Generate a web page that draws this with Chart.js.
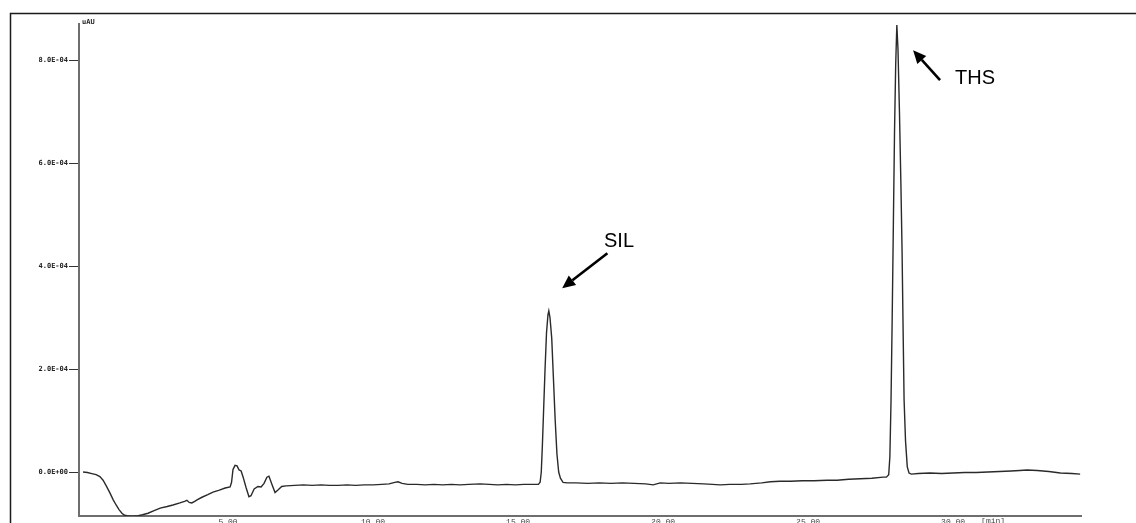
<!DOCTYPE html>
<html>
<head>
<meta charset="utf-8">
<script src="https://cdn.jsdelivr.net/npm/chart.js@4/dist/chart.umd.min.js"></script>
<style>
  html, body { margin: 0; padding: 0; background: #fff; }
  canvas { display: block; }
</style>
</head>
<body>
<canvas id="chrom" width="1136" height="523"></canvas>
<script>
// Retention time (min)
const retentionTime = [
  0.00, 0.15, 0.30, 0.45, 0.58, 0.69, 0.80, 0.93, 1.04, 1.14, 1.24, 1.34, 1.43, 1.52, 1.70, 1.90,
  2.05, 2.24, 2.45, 2.66, 2.90, 3.10, 3.34, 3.50, 3.58, 3.66, 3.75, 3.85, 3.93, 4.10, 4.30, 4.48,
  4.70, 4.90, 5.07, 5.12, 5.17, 5.24, 5.31, 5.38, 5.45, 5.52, 5.62, 5.72, 5.79, 5.90, 6.03, 6.14,
  6.24, 6.34, 6.41, 6.52, 6.62, 6.72, 6.85, 7.00, 7.30, 7.60, 7.90, 8.20, 8.50, 8.80, 9.10, 9.40,
  9.70, 10.00, 10.30, 10.55, 10.75, 10.86, 11.00, 11.20, 11.50, 11.80, 12.10, 12.40, 12.70, 13.00,
  13.30, 13.69, 14.00, 14.30, 14.60, 14.90, 15.20, 15.50, 15.70, 15.76, 15.80, 15.84, 15.88, 15.93,
  15.98, 16.03, 16.06, 16.10, 16.16, 16.22, 16.28, 16.34, 16.40, 16.46, 16.55, 16.70, 17.00, 17.40,
  17.80, 18.20, 18.60, 19.00, 19.40, 19.66, 19.90, 20.20, 20.60, 21.00, 21.40, 21.70, 21.97, 22.30,
  22.70, 23.00, 23.40, 23.70, 24.03, 24.40, 24.80, 25.20, 25.66, 26.00, 26.40, 26.80, 27.20, 27.59,
  27.70, 27.78, 27.82, 27.86, 27.90, 27.94, 27.98, 28.02, 28.06, 28.10, 28.15, 28.20, 28.24, 28.28,
  28.31, 28.36, 28.42, 28.48, 28.56, 28.80, 29.20, 29.60, 30.00, 30.40, 30.80, 31.20, 31.60, 32.00,
  32.30, 32.55, 32.90, 33.30, 33.70, 34.10, 34.38
];

// Detector signal (AU)
const absorbance = [
  0.00e-4, -0.01e-4, -0.03e-4, -0.05e-4, -0.09e-4, -0.16e-4, -0.27e-4, -0.41e-4, -0.54e-4, -0.64e-4, -0.73e-4, -0.80e-4, -0.84e-4, -0.85e-4, -0.86e-4, -0.85e-4,
  -0.83e-4, -0.80e-4, -0.75e-4, -0.70e-4, -0.67e-4, -0.64e-4, -0.60e-4, -0.57e-4, -0.55e-4, -0.59e-4, -0.60e-4, -0.57e-4, -0.54e-4, -0.49e-4, -0.44e-4, -0.39e-4,
  -0.35e-4, -0.31e-4, -0.29e-4, -0.20e-4, 0.05e-4, 0.13e-4, 0.12e-4, 0.04e-4, 0.02e-4, -0.10e-4, -0.30e-4, -0.48e-4, -0.46e-4, -0.33e-4, -0.28e-4, -0.29e-4,
  -0.22e-4, -0.10e-4, -0.08e-4, -0.25e-4, -0.40e-4, -0.35e-4, -0.28e-4, -0.27e-4, -0.26e-4, -0.25e-4, -0.26e-4, -0.25e-4, -0.26e-4, -0.26e-4, -0.25e-4, -0.26e-4,
  -0.25e-4, -0.25e-4, -0.24e-4, -0.23e-4, -0.20e-4, -0.19e-4, -0.22e-4, -0.24e-4, -0.24e-4, -0.25e-4, -0.24e-4, -0.25e-4, -0.24e-4, -0.25e-4,
  -0.24e-4, -0.23e-4, -0.24e-4, -0.25e-4, -0.24e-4, -0.25e-4, -0.24e-4, -0.24e-4, -0.24e-4, -0.20e-4, 0.00e-4, 0.55e-4, 1.20e-4, 2.00e-4,
  2.70e-4, 3.05e-4, 3.13e-4, 3.00e-4, 2.60e-4, 1.80e-4, 1.00e-4, 0.35e-4, 0.00e-4, -0.12e-4, -0.20e-4, -0.21e-4, -0.21e-4, -0.22e-4,
  -0.21e-4, -0.22e-4, -0.21e-4, -0.22e-4, -0.23e-4, -0.25e-4, -0.21e-4, -0.22e-4, -0.21e-4, -0.22e-4, -0.23e-4, -0.24e-4, -0.25e-4, -0.24e-4,
  -0.24e-4, -0.23e-4, -0.21e-4, -0.19e-4, -0.18e-4, -0.18e-4, -0.17e-4, -0.17e-4, -0.16e-4, -0.16e-4, -0.14e-4, -0.13e-4, -0.12e-4, -0.10e-4,
  -0.10e-4, -0.05e-4, 0.30e-4, 1.40e-4, 3.00e-4, 4.80e-4, 6.60e-4, 7.90e-4, 8.68e-4, 8.20e-4, 7.00e-4, 5.60e-4, 4.30e-4, 2.60e-4,
  1.40e-4, 0.60e-4, 0.10e-4, -0.02e-4, -0.04e-4, -0.03e-4, -0.02e-4, -0.03e-4, -0.02e-4, -0.01e-4, -0.01e-4, 0.00e-4, 0.01e-4, 0.02e-4,
  0.03e-4, 0.04e-4, 0.03e-4, 0.01e-4, -0.02e-4, -0.03e-4, -0.04e-4
];

// Axis ticks
const xTickValues = [5, 10, 15, 20, 25, 30];
const yTickValues = [0, 2e-4, 4e-4, 6e-4, 8e-4];

// Peak labels: name, arrow tip (time, AU), arrow tail (time, AU)
const peakNames = ['SIL', 'THS'];
const arrowTips = [[16.52, 3.57e-4], [28.62, 8.19e-4]];
const arrowTails = [[18.08, 4.25e-4], [29.55, 7.61e-4]];

function sciLabel(v) {
  if (Math.abs(v) < 1e-12) return '0.0E+00';
  const parts = v.toExponential(1).split('e');
  const exp = parseInt(parts[1], 10);
  const sign = exp < 0 ? '-' : '+';
  return parts[0] + 'E' + sign + String(Math.abs(exp)).padStart(2, '0');
}

const decorations = {
  id: 'decorations',
  afterDraw(chart) {
    const ctx = chart.ctx;
    const xs = chart.scales.x, ys = chart.scales.y;
    ctx.save();

    // outer frame
    ctx.strokeStyle = '#1a1a1a';
    ctx.lineWidth = 1.5;
    ctx.beginPath();
    ctx.moveTo(10.5, 600);
    ctx.lineTo(10.5, 13.5);
    ctx.lineTo(1200, 13.5);
    ctx.stroke();

    // units
    ctx.fillStyle = '#222';
    ctx.font = 'bold 7px "DejaVu Sans Mono"';
    ctx.textAlign = 'left';
    ctx.textBaseline = 'middle';
    ctx.fillText('uAU', 82, 22);

    ctx.font = '8px "Liberation Mono"';
    ctx.textAlign = 'center';
    ctx.textBaseline = 'top';
    ctx.fillStyle = '#444';
    ctx.fillText('[min]', xs.getPixelForValue(31.38), 517);

    // peak arrows and names
    ctx.strokeStyle = '#000';
    ctx.fillStyle = '#000';
    peakNames.forEach((name, i) => {
      const tx = xs.getPixelForValue(arrowTips[i][0]);
      const ty = ys.getPixelForValue(arrowTips[i][1]);
      const sx = xs.getPixelForValue(arrowTails[i][0]);
      const sy = ys.getPixelForValue(arrowTails[i][1]);
      const ang = Math.atan2(ty - sy, tx - sx);
      const headLen = 13, headW = 6;
      const bx = tx - headLen * Math.cos(ang), by = ty - headLen * Math.sin(ang);
      ctx.lineWidth = 2.6;
      ctx.beginPath();
      ctx.moveTo(sx, sy);
      ctx.lineTo(bx, by);
      ctx.stroke();
      ctx.beginPath();
      ctx.moveTo(tx, ty);
      ctx.lineTo(bx + headW * Math.sin(ang), by - headW * Math.cos(ang));
      ctx.lineTo(bx - headW * Math.sin(ang), by + headW * Math.cos(ang));
      ctx.closePath();
      ctx.fill();
    });
    ctx.font = '20px "Liberation Sans", Arial, sans-serif';
    ctx.textAlign = 'left';
    ctx.textBaseline = 'alphabetic';
    ctx.fillText(peakNames[0], 604, 247);
    ctx.fillText(peakNames[1], 955, 84);

    ctx.restore();
  }
};

new Chart(document.getElementById('chrom'), {
  type: 'line',
  data: {
    datasets: [{
      data: retentionTime.map((t, i) => ({ x: t, y: absorbance[i] })),
      borderColor: '#2a2a2a',
      borderWidth: 1.4,
      pointRadius: 0,
      tension: 0,
      fill: false
    }]
  },
  options: {
    responsive: false,
    animation: false,
    events: [],
    layout: { padding: { left: 0, right: 55, top: 24, bottom: 0 } },
    plugins: { legend: { display: false }, tooltip: { enabled: false } },
    scales: {
      x: {
        type: 'linear',
        min: -0.14,
        max: 34.41,
        afterBuildTicks: s => { s.ticks = xTickValues.map(v => ({ value: v })); },
        afterFit: s => { s.height = 7; },
        grid: { display: true, drawOnChartArea: false, drawTicks: false },
        border: { display: true, color: '#6e6e6e', width: 2 },
        ticks: {
          padding: 1,
          maxRotation: 0,
          color: '#444',
          font: { family: 'Liberation Mono', size: 8 },
          callback: v => v.toFixed(2)
        }
      },
      y: {
        min: -0.854e-4,
        max: 8.70e-4,
        afterBuildTicks: s => { s.ticks = yTickValues.map(v => ({ value: v })); },
        afterFit: s => { s.width = 79; },
        grid: { display: true, drawOnChartArea: false, drawTicks: true, tickLength: 10, color: '#333', tickWidth: 1 },
        border: { display: true, color: '#6e6e6e', width: 2 },
        ticks: {
          padding: 1,
          color: '#222',
          font: { family: 'DejaVu Sans Mono', size: 7, weight: 'bold' },
          callback: v => sciLabel(v)
        }
      }
    }
  },
  plugins: [decorations]
});
</script>
</body>
</html>
